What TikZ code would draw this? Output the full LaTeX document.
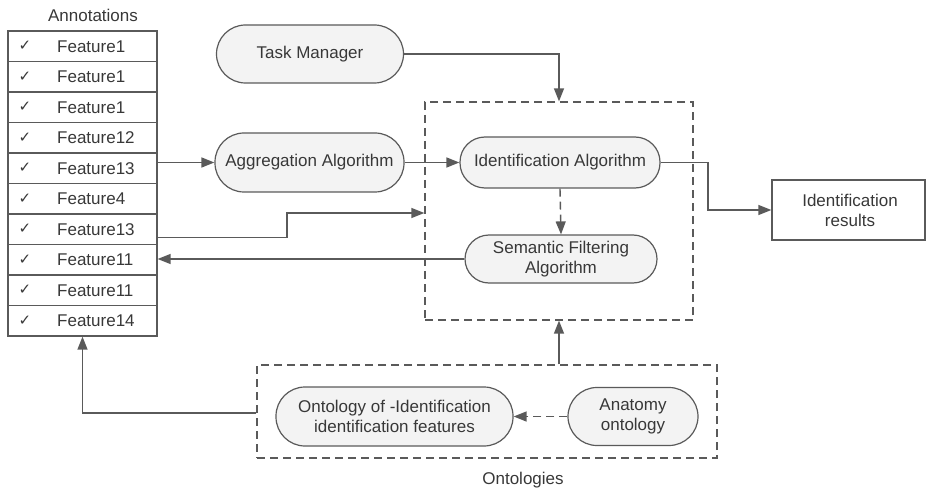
\documentclass[tikz,border=0pt]{standalone}
\usepackage{fontspec}
\setmainfont{Liberation Sans}
\newfontfamily\symfont{DejaVu Sans}
\usetikzlibrary{arrows.meta}
\definecolor{ln}{HTML}{5A5A5A}
\definecolor{tx}{HTML}{383838}
\definecolor{nf}{HTML}{F3F3F3}
\begin{document}
\begin{tikzpicture}[x=1pt,y=-1pt,
  font=\fontsize{17}{20}\selectfont,
  every node/.style={text=tx},
  rowbox/.style={draw=ln,line width=1.3pt,minimum width=149pt,minimum height=30.5pt,inner sep=0pt},
  pill/.style={draw=ln,line width=1.2pt,fill=nf,rounded corners=#1,inner sep=0pt,align=center},
  plainbox/.style={draw=ln,line width=1.3pt,inner sep=0pt,align=center},
  dbox/.style={draw=ln,line width=1.3pt,dash pattern=on 8pt off 5pt,inner sep=0pt},
  arr/.style={draw=ln,line width=1.4pt,-{Triangle[length=13pt,width=10pt]}},
  darr/.style={arr,dash pattern=on 8pt off 5pt}
]
\useasboundingbox (0,0) rectangle (926,489);

\node (ann) at (93,15) {Annotations};
\foreach \i/\t in {1/Feature1,2/Feature1,3/Feature1,4/Feature12,5/Feature13,6/Feature4,7/Feature13,8/Feature11,9/Feature11,10/Feature14}{
  \node[rowbox] (r\i) at (82.5,{31+30.5*(\i-0.5)}) {};
  \node[font=\symfont\fontsize{15}{17}\selectfont] (c\i) at (25,{31+30.5*(\i-0.5)}) {✓};
  \node[anchor=west,inner sep=0pt] (t\i) at (57,{31+30.5*(\i-0.5)}) {\t};
}

\node[pill=29pt,minimum width=187pt,minimum height=58pt] (tm) at (310,54) {Task Manager};
\node[pill=29pt,minimum width=189pt,minimum height=59pt] (agg) at (309.5,162.5) {Aggregation Algorithm};
\node[dbox,minimum width=268pt,minimum height=218pt] (algbox) at (559,211) {};
\node[pill=25pt,minimum width=200pt,minimum height=51pt] (ident) at (560,162.5) {Identification Algorithm};
\node[pill=24pt,minimum width=192pt,minimum height=48pt] (sem) at (561,259) {Semantic Filtering\\Algorithm};
\node[plainbox,minimum width=153pt,minimum height=60pt] (res) at (848.5,210) {};
\node[align=center,inner sep=0pt] (restxt) at (850,210) {Identification\\results};

\node[dbox,minimum width=460pt,minimum height=93pt] (ontobox) at (487,411.5) {};
\node[pill=29pt,minimum width=237pt,minimum height=59pt] (onto) at (394.5,416.5) {Ontology of -Identification\\identification features};
\node[pill=29pt,minimum width=130pt,minimum height=58pt] (anat) at (633,416.5) {Anatomy\\ontology};
\node (ontolab) at (523,480) {Ontologies};

\coordinate (jog) at (708,0);
\coordinate (bend) at (287,213);

\draw[arr] (agg.west -| r5.east) -- (agg.west);
\draw[arr] (tm.east) -| (algbox.north);
\draw[arr] (agg.east) -- (ident.west);
\draw[darr] (ident.south) -- (sem.north);
\draw[arr] (ident.east) -- (ident.east -| jog) |- (res.west);
\draw[arr] ([yshift=-8pt]r7.east) -| (bend) -- (bend -| algbox.west);
\draw[arr] (sem.west) -- (sem.west -| r8.east);
\draw[arr] (ontobox.north -| algbox.south) -- (algbox.south);
\draw[darr] (anat.west) -- (onto.east);
\draw[arr] ([yshift=-1.5pt]ontobox.west) -| (r10.south);
\end{tikzpicture}
\end{document}
